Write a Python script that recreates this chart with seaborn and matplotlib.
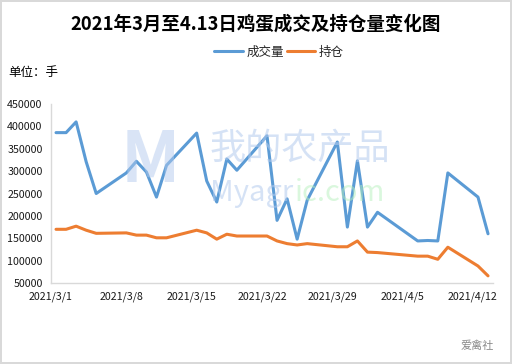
import matplotlib
matplotlib.use('Agg')
import matplotlib.pyplot as plt
import pandas as pd
import seaborn as sns

dates = ['2021-03-01', '2021-03-02', '2021-03-03', '2021-03-04', '2021-03-05',
         '2021-03-08', '2021-03-09', '2021-03-10', '2021-03-11', '2021-03-12',
         '2021-03-15', '2021-03-16', '2021-03-17', '2021-03-18', '2021-03-19',
         '2021-03-22', '2021-03-23', '2021-03-24', '2021-03-25', '2021-03-26',
         '2021-03-29', '2021-03-30', '2021-03-31', '2021-04-01', '2021-04-02',
         '2021-04-06', '2021-04-07', '2021-04-08', '2021-04-09', '2021-04-12',
         '2021-04-13']
volume = [386000, 386000, 410000, 321000, 250000,
          296000, 322000, 298000, 242000, 313000,
          385000, 278000, 231000, 327000, 302000,
          379000, 190000, 238000, 148000, 235000,
          365000, 175000, 323000, 175000, 208000,
          144000, 145000, 144000, 296000, 242000,
          160000]
position = [170000, 170000, 177000, 168000, 161000,
            162000, 157000, 157000, 151000, 151000,
            168000, 162000, 148000, 159000, 155000,
            155000, 144000, 138000, 135000, 138000,
            131000, 131000, 144000, 119000, 118000,
            110000, 110000, 103000, 130000, 88000,
            66000]
series_names = ['成交量', '持仓']
tick_dates = ['2021-03-01', '2021-03-08', '2021-03-15', '2021-03-22',
              '2021-03-29', '2021-04-05', '2021-04-12']
tick_labels = ['2021/3/1', '2021/3/8', '2021/3/15', '2021/3/22',
               '2021/3/29', '2021/4/5', '2021/4/12']

sns.set_style('white')
plt.rcParams['font.family'] = ['Noto Sans CJK SC', 'DejaVu Sans']

# points sit in the middle of each day, like an Excel date axis
x = pd.to_datetime(dates) + pd.Timedelta(hours=12)
df = pd.concat([
    pd.DataFrame({'date': x, 'value': volume, 'series': series_names[0]}),
    pd.DataFrame({'date': x, 'value': position, 'series': series_names[1]}),
])

fig = plt.figure(figsize=(5.12, 3.64), dpi=100, edgecolor='#d9d9d9', linewidth=1.5)
ax = fig.add_axes([0.0996, 0.2225, 0.8634, 0.4918])

# watermark behind the lines
fig.text(0.235, 0.555, 'M', fontsize=50, fontweight='bold', color='#b4cbee',
         alpha=0.5, ha='left', va='center', zorder=0)
fig.text(0.41, 0.59, '我的农产品', fontsize=26, color='#b4cbee', alpha=0.55,
         ha='left', va='center', zorder=0)
fig.text(0.41, 0.47, 'Myagr', fontsize=21, color='#b4cbee', alpha=0.55,
         ha='left', va='center', zorder=0)
fig.text(0.575, 0.47, 'ic.com', fontsize=21, color='#b6f0bd', alpha=0.5,
         ha='left', va='center', zorder=0)
ax.set_facecolor('none')

sns.lineplot(data=df, x='date', y='value', hue='series',
             palette=['#5B9BD5', '#ED7D31'], linewidth=2.2, ax=ax, legend=False)

ax.set_xlim(pd.Timestamp('2021-03-01'), pd.Timestamp('2021-04-14'))
ax.set_ylim(50000, 450000)
ax.set_yticks(range(50000, 450001, 50000))
ax.set_yticklabels([str(v) for v in range(50000, 450001, 50000)])
ax.set_xticks(pd.to_datetime(tick_dates))
ax.set_xticklabels(tick_labels)
ax.set_xlabel('')
ax.set_ylabel('')
for s in ['top', 'right']:
    ax.spines[s].set_visible(False)
for s in ['left', 'bottom']:
    ax.spines[s].set_color('#d9d9d9')
    ax.spines[s].set_linewidth(1.0)
ax.tick_params(axis='both', which='both', length=4, width=1, color='#d9d9d9',
               labelsize=7.7, labelcolor='#1a1a1a', direction='out', pad=2)

fig.text(0.5, 0.935, '2021年3月至4.13日鸡蛋成交及持仓量变化图', fontsize=13.3,
         fontweight='bold', ha='center', va='center', color='#000000')
fig.text(0.016, 0.802, '单位：手', fontsize=9, ha='left', va='center', color='#000000')

handles = [plt.Line2D([], [], color='#5B9BD5', linewidth=2.2),
           plt.Line2D([], [], color='#ED7D31', linewidth=2.2)]
fig.legend(handles, series_names, loc='center', bbox_to_anchor=(0.545, 0.857),
           ncol=2, frameon=False, fontsize=9, handlelength=2.3,
           handletextpad=0.3, columnspacing=0.2, borderaxespad=0)

fig.text(0.9, 0.05, '爱禽社', fontsize=8, color='#888888', ha='left', va='center')

fig.savefig('out.png', dpi=100)
